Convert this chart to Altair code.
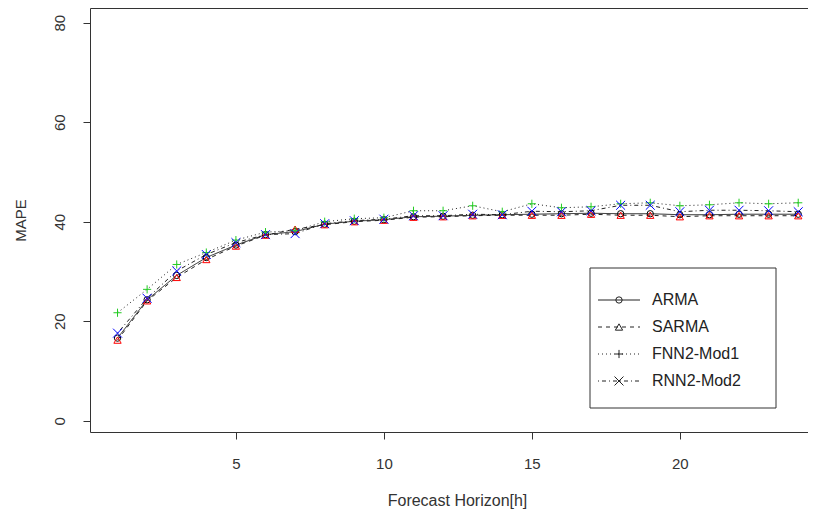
import altair as alt
import pandas as pd

horizon = list(range(1, 25))
series_names = ["ARMA", "SARMA", "FNN2-Mod1", "RNN2-Mod2"]

arma = [16.6, 24.3, 29.2, 32.8, 35.3, 37.4, 38.0, 39.5, 40.1, 40.4, 41.0, 41.1,
        41.3, 41.4, 41.5, 41.6, 41.7, 41.6, 41.6, 41.4, 41.4, 41.5, 41.5, 41.5]
sarma = [16.2, 24.1, 28.8, 32.4, 35.1, 37.3, 38.5, 39.4, 40.0, 40.3, 40.9, 41.0,
         41.2, 41.3, 41.3, 41.3, 41.5, 41.3, 41.3, 41.0, 41.2, 41.2, 41.2, 41.2]
fnn2 = [21.7, 26.4, 31.4, 33.8, 36.3, 37.9, 38.2, 40.0, 40.6, 40.8, 42.2, 42.2,
        43.2, 42.0, 43.6, 42.8, 43.0, 43.6, 43.8, 43.2, 43.4, 43.8, 43.6, 43.8]
rnn2 = [17.6, 24.6, 30.1, 33.4, 35.8, 37.4, 37.6, 39.6, 40.2, 40.5, 41.2, 41.2,
        41.5, 41.4, 42.1, 42.0, 42.2, 43.3, 43.3, 42.0, 42.3, 42.3, 42.2, 42.0]

x_ticks = [5, 10, 15, 20]
y_ticks = [0, 20, 40, 60, 80]

point_colors = ["#000000", "#FF0000", "#22CC22", "#0000FF"]
shapes = ["circle", "triangle-up", "M-1,0L1,0M0,-1L0,1", "M-1,-1L1,1M-1,1L1,-1"]
sizes = [40, 80, 110, 75]
legend_sizes = [35, 65, 80, 55]
dashes = [[1, 0], [4, 4], [1, 3], [1, 3, 4, 3]]

rows = []
for name, vals in zip(series_names, [arma, sarma, fnn2, rnn2]):
    for h, v in zip(horizon, vals):
        rows.append({"h": h, "MAPE": v, "series": name})
df = pd.DataFrame(rows)

legend_df = pd.DataFrame({"series": series_names, "row": list(range(len(series_names)))})

FONT = "Liberation Sans"
TXT = "#333333"

x_enc = alt.X("h:Q",
              scale=alt.Scale(domain=[0.07, 24.33], nice=False, zero=False),
              axis=alt.Axis(values=x_ticks, title="Forecast Horizon[h]",
                            labelPadding=17, titlePadding=21, titleX=367,
                            titleFontSize=16))
y_enc = alt.Y("MAPE:Q",
              scale=alt.Scale(domain=[-2.27, 82.95], nice=False, zero=False),
              axis=alt.Axis(values=y_ticks, title="MAPE", labelAngle=270,
                            labelAlign="center", labelBaseline="bottom",
                            labelPadding=16, titlePadding=24))

dash_scale = alt.Scale(domain=series_names, range=dashes)
shape_scale = alt.Scale(domain=series_names, range=shapes)
size_scale = alt.Scale(domain=series_names, range=sizes)
color_scale = alt.Scale(domain=series_names, range=point_colors)
row_offset = alt.YOffset("row:Q", scale=alt.Scale(domain=[0, 3], range=[0, 81]))

box = alt.Chart(pd.DataFrame({"k": [0]})).mark_rect(
    fill="white", stroke="#333333", strokeWidth=1
).encode(
    x=alt.value(500), x2=alt.value(686), y=alt.value(260), y2=alt.value(400)
)

lines = alt.Chart(df).mark_line(color="#222222", strokeWidth=1).encode(
    x=x_enc, y=y_enc,
    strokeDash=alt.StrokeDash("series:N", scale=dash_scale, legend=None),
)

points = alt.Chart(df).mark_point(filled=False, strokeWidth=1, opacity=1).encode(
    x=x_enc, y=y_enc,
    color=alt.Color("series:N", scale=color_scale, legend=None),
    shape=alt.Shape("series:N", scale=shape_scale, legend=None),
    size=alt.Size("series:N", scale=size_scale, legend=None),
)

leg_lines = alt.Chart(legend_df).mark_rule(color="#222222", strokeWidth=1).encode(
    x=alt.value(508), x2=alt.value(550), y=alt.value(292),
    yOffset=row_offset,
    strokeDash=alt.StrokeDash("series:N", scale=dash_scale, legend=None),
)

leg_points = alt.Chart(legend_df).mark_point(
    filled=False, strokeWidth=1, opacity=1, color="#222222"
).encode(
    x=alt.value(529), y=alt.value(292),
    yOffset=row_offset,
    shape=alt.Shape("series:N", scale=shape_scale, legend=None),
    size=alt.Size("series:N", scale=size_scale, legend=None),
)

leg_text = alt.Chart(legend_df).mark_text(
    align="left", baseline="middle", font=FONT, fontSize=16, color="#222222"
).encode(
    x=alt.value(562), y=alt.value(292),
    yOffset=row_offset,
    text="series:N",
)

chart = alt.layer(box, lines, points, leg_lines, leg_points, leg_text).properties(
    width=718, height=424,
    autosize=alt.AutoSizeParams(type="none"),
    padding={"left": 82, "top": 0, "right": 0, "bottom": 78},
).configure_view(
    stroke="#333333", strokeWidth=1
).configure_axis(
    domain=False, grid=False, tickColor="#333333", tickSize=7, tickWidth=1,
    labelFont=FONT, labelFontSize=15, labelColor=TXT,
    titleFont=FONT, titleFontSize=15, titleColor=TXT, titleFontWeight="normal",
)

chart.save("out.html", embed_options={"renderer": "svg", "actions": False})
